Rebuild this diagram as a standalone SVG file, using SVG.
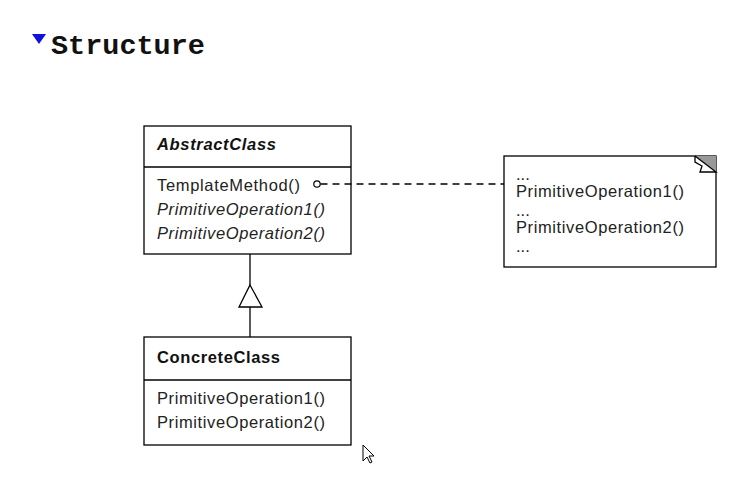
<svg xmlns="http://www.w3.org/2000/svg" width="753" height="502" viewBox="0 0 753 502">
<style>
.box{fill:#fff;stroke:#000;stroke-width:1.3}
.ln{stroke:#000;stroke-width:1.3;fill:none}
.t{font-family:"Liberation Sans",Arial,sans-serif;font-size:16.5px;fill:#222}
.b{font-weight:bold;fill:#111}
.i{font-style:italic}
.h{font-family:"Liberation Mono","Courier New",monospace;font-weight:bold;font-size:28.5px;fill:#111}
</style>
<rect width="753" height="502" fill="#fff"/>
<polygon points="32,34 46,34 39,44" fill="#1010e0"/>
<text class="h" x="51" y="54">Structure</text>

<g id="AbstractClass">
<rect class="box" x="144" y="126" width="207" height="128"/>
<line class="ln" x1="144" y1="167" x2="351" y2="167"/>
<text class="t b i" x="157" y="150" textLength="119">AbstractClass</text>
<text class="t" x="157" y="191" textLength="143">TemplateMethod()</text>
<text class="t i" x="157" y="215" textLength="168">PrimitiveOperation1()</text>
<text class="t i" x="157" y="239" textLength="168">PrimitiveOperation2()</text>
</g>

<g id="ConcreteClass">
<rect class="box" x="144" y="337" width="207" height="108"/>
<line class="ln" x1="144" y1="380" x2="351" y2="380"/>
<text class="t b" x="157" y="363" textLength="123">ConcreteClass</text>
<text class="t" x="157" y="404" textLength="168">PrimitiveOperation1()</text>
<text class="t" x="157" y="428" textLength="168">PrimitiveOperation2()</text>
</g>

<g id="Note">
<rect class="box" x="504" y="156" width="212" height="111"/>
<polygon points="695,156 716,156 716,172" fill="#999"/>
<polyline class="ln" points="695,156 716,172 700,172 702,166 695,162 695,156" stroke-width="1.2"/>
<text class="t" x="516" y="180">...</text>
<text class="t" x="516" y="197" textLength="168">PrimitiveOperation1()</text>
<text class="t" x="516" y="216">...</text>
<text class="t" x="516" y="233" textLength="168">PrimitiveOperation2()</text>
<text class="t" x="516" y="252">...</text>
</g>

<g id="connectors">
<circle cx="317" cy="184" r="3.2" fill="#fff" stroke="#000" stroke-width="1.2"/>
<line class="ln" x1="320.5" y1="184" x2="504" y2="184" stroke-dasharray="7,5"/>
<line class="ln" x1="250" y1="254" x2="250" y2="285"/>
<polygon class="box" points="250,285 262,307 239,307"/>
<line class="ln" x1="250" y1="307" x2="250" y2="337"/>
</g>

<polygon points="363,445 363,461 367,457 370,463 372,462 369,456 374,456" fill="#fff" stroke="#000" stroke-width="1"/>
</svg>
